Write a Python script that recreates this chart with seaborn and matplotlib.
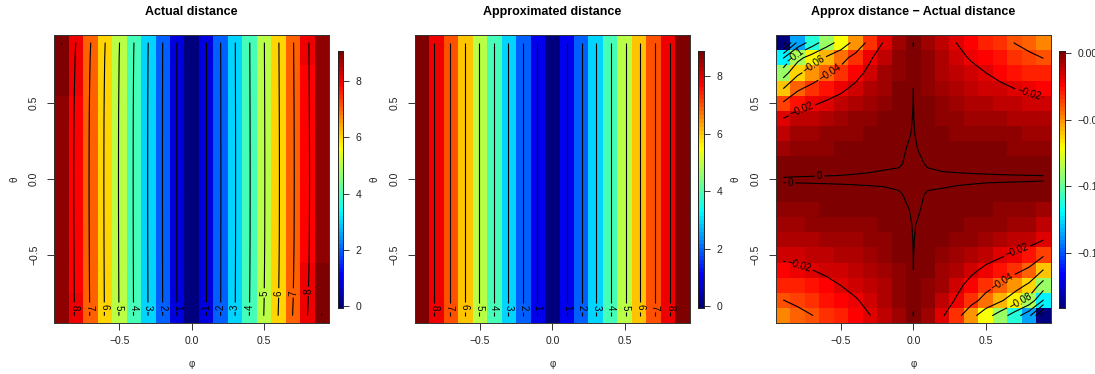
import numpy as np
import matplotlib
matplotlib.use("Agg")
import matplotlib.pyplot as plt
from matplotlib.colors import LinearSegmentedColormap, ListedColormap
import seaborn as sns

# ---------------- data ----------------
phi = [-0.9, -0.8, -0.7, -0.6, -0.5, -0.4, -0.3, -0.2, -0.1, 0.0,
       0.1, 0.2, 0.3, 0.4, 0.5, 0.6, 0.7, 0.8, 0.9]
theta = [0.9, 0.8, 0.7, 0.6, 0.5, 0.4, 0.3, 0.2, 0.1, 0.0,
         -0.1, -0.2, -0.3, -0.4, -0.5, -0.6, -0.7, -0.8, -0.9]   # rows, top to bottom

# approximated distance: depends on phi only (one value per column)
approx_by_phi = [8.82, 7.85, 6.91, 5.93, 4.94, 3.955, 2.96, 1.98, 0.97, 0.0,
                 0.97, 1.98, 2.96, 3.955, 4.94, 5.93, 6.91, 7.85, 8.82]

# Approx distance - Actual distance (rows = theta, top to bottom; columns = phi)
diff_rows = [
    [-0.1900, -0.1349, -0.1102, -0.0893, -0.0722, -0.0532, -0.0342, -0.0181, -0.0076, 0.00001, -0.0067, -0.0134, -0.0202, -0.0250, -0.0298, -0.0350, -0.0403, -0.0442, -0.0480],
    [-0.1216, -0.0863, -0.0705, -0.0572, -0.0462, -0.0340, -0.0219, -0.0116, -0.0049, -0.00003, -0.0056, -0.0113, -0.0170, -0.0210, -0.0250, -0.0294, -0.0339, -0.0371, -0.0403],
    [-0.0893, -0.0634, -0.0518, -0.0420, -0.0339, -0.0250, -0.0161, -0.0085, -0.0036, -0.00002, -0.0045, -0.0090, -0.0135, -0.0168, -0.0199, -0.0235, -0.0270, -0.0296, -0.0322],
    [-0.0608, -0.0432, -0.0353, -0.0286, -0.0231, -0.0170, -0.0109, -0.0058, -0.0024, -0.000001, -0.0034, -0.0067, -0.0101, -0.0125, -0.0149, -0.0175, -0.0202, -0.0221, -0.0240],
    [-0.0380, -0.0270, -0.0220, -0.0179, -0.0144, -0.0106, -0.0068, -0.0036, -0.0015, 0.00003, -0.0024, -0.0048, -0.0073, -0.0090, -0.0107, -0.0126, -0.0145, -0.0159, -0.0173],
    [-0.0198, -0.0142, -0.0116, -0.0094, -0.0076, -0.0056, -0.0036, -0.0019, -0.0008, 0.00006, -0.0016, -0.0032, -0.0048, -0.0060, -0.0072, -0.0084, -0.0097, -0.0106, -0.0115],
    [-0.0118, -0.0084, -0.0068, -0.0055, -0.0045, -0.0033, -0.0021, -0.0011, -0.0005, 0.0001, -0.0009, -0.0019, -0.0028, -0.0035, -0.0042, -0.0049, -0.0056, -0.0062, -0.0067],
    [-0.0061, -0.0043, -0.0035, -0.0029, -0.0023, -0.0017, -0.0011, -0.0006, -0.0002, 0.0002, -0.0005, -0.0009, -0.0014, -0.0018, -0.0021, -0.0025, -0.0028, -0.0031, -0.0034],
    [-0.0023, -0.0016, -0.0013, -0.0011, -0.0009, -0.0006, -0.0004, -0.0002, -0.0001, 0.0003, -0.0001, -0.0003, -0.0004, -0.0005, -0.0006, -0.0007, -0.0008, -0.0009, -0.0010],
    [0.0003, 0.0003, 0.0003, 0.0003, 0.0003, 0.0003, 0.0003, 0.0003, 0.0003, 0.0003, 0.0003, 0.0003, 0.0003, 0.0003, 0.0003, 0.0003, 0.0003, 0.0003, 0.0003],
    [-0.0010, -0.0009, -0.0008, -0.0007, -0.0006, -0.0005, -0.0004, -0.0003, -0.0001, 0.0003, -0.0001, -0.0002, -0.0004, -0.0006, -0.0009, -0.0011, -0.0013, -0.0016, -0.0023],
    [-0.0034, -0.0031, -0.0028, -0.0025, -0.0021, -0.0018, -0.0014, -0.0009, -0.0005, 0.0002, -0.0002, -0.0006, -0.0011, -0.0017, -0.0023, -0.0029, -0.0035, -0.0043, -0.0061],
    [-0.0067, -0.0062, -0.0056, -0.0049, -0.0042, -0.0035, -0.0028, -0.0019, -0.0009, 0.0001, -0.0005, -0.0011, -0.0021, -0.0033, -0.0045, -0.0055, -0.0068, -0.0084, -0.0118],
    [-0.0115, -0.0106, -0.0097, -0.0084, -0.0072, -0.0060, -0.0048, -0.0032, -0.0016, 0.00006, -0.0008, -0.0019, -0.0036, -0.0056, -0.0076, -0.0094, -0.0116, -0.0142, -0.0198],
    [-0.0173, -0.0159, -0.0145, -0.0126, -0.0107, -0.0090, -0.0073, -0.0048, -0.0024, 0.00003, -0.0015, -0.0036, -0.0068, -0.0106, -0.0144, -0.0179, -0.0220, -0.0270, -0.0380],
    [-0.0240, -0.0221, -0.0202, -0.0175, -0.0149, -0.0125, -0.0101, -0.0067, -0.0034, -0.000001, -0.0024, -0.0058, -0.0109, -0.0170, -0.0231, -0.0286, -0.0353, -0.0432, -0.0608],
    [-0.0322, -0.0296, -0.0270, -0.0235, -0.0199, -0.0168, -0.0135, -0.0090, -0.0045, -0.00002, -0.0036, -0.0085, -0.0161, -0.0250, -0.0339, -0.0420, -0.0518, -0.0634, -0.0893],
    [-0.0403, -0.0371, -0.0339, -0.0294, -0.0250, -0.0210, -0.0170, -0.0113, -0.0056, -0.00003, -0.0049, -0.0116, -0.0219, -0.0340, -0.0462, -0.0572, -0.0705, -0.0863, -0.1216],
    [-0.0480, -0.0442, -0.0403, -0.0350, -0.0298, -0.0250, -0.0202, -0.0134, -0.0067, 0.00001, -0.0076, -0.0181, -0.0342, -0.0532, -0.0722, -0.0893, -0.1102, -0.1349, -0.1900],
]

titles = ["Actual distance", "Approximated distance", "Approx distance \u2212 Actual distance"]
axis_ticks = [-0.5, 0.0, 0.5]
axis_ticklabels = ["\u22120.5", "0.0", "0.5"]
cbar_ticks_dist = [0, 2, 4, 6, 8]
cbar_ticks_diff = [0.0, -0.05, -0.10, -0.15]
cbar_labels_diff = ["0.00", "\u22120.05", "\u22120.10", "\u22120.15"]
levels_dist = [1, 2, 3, 4, 5, 6, 7, 8, 9]
levels_diff = [-0.18, -0.16, -0.14, -0.12, -0.10, -0.08, -0.06, -0.04, -0.02, 0.0]

# label anchor points (phi, theta)
lab_actual = [(-0.813, -0.844), (-0.709, -0.844), (-0.605, -0.844), (-0.506, -0.844),
              (-0.404, -0.844), (-0.305, -0.844), (-0.203, -0.844), (-0.104, -0.844),
              (0.102, -0.844), (0.201, -0.844), (0.303, -0.844), (0.405, -0.844),
              (0.50, -0.75), (0.60, -0.75), (0.70, -0.75), (0.80, -0.74)]
lab_approx = [(-0.813, -0.844), (-0.709, -0.844), (-0.605, -0.844), (-0.506, -0.844),
              (-0.404, -0.844), (-0.305, -0.844), (-0.203, -0.844), (-0.104, -0.844),
              (0.102, -0.844), (0.201, -0.844), (0.303, -0.844), (0.405, -0.844),
              (0.506, -0.844), (0.608, -0.844), (0.709, -0.844), (0.816, -0.844)]
lab_diff = [(-0.82, 0.815), (-0.69, 0.76), (-0.58, 0.71), (-0.77, 0.45), (0.80, 0.57),
            (-0.65, 0.022), (-0.85, -0.022), (-0.795, -0.583), (0.71, -0.457),
            (0.618, -0.678), (0.74, -0.81)]

# ---------------- derived tables ----------------
diff = np.array(diff_rows)
approx = np.tile(np.array(approx_by_phi), (len(theta), 1))
actual = approx - diff

# ---------------- style ----------------
sns.set_style("white")
plt.rcParams['font.family'] = ['Liberation Sans', 'DejaVu Sans']
plt.rcParams['axes.unicode_minus'] = True

ramp = ["#00007F", "#0000FF", "#007FFF", "#00FFFF", "#7FFF7F",
        "#FFFF00", "#FF7F00", "#FF0000", "#7F0000"]
cmap = ListedColormap(LinearSegmentedColormap.from_list("rjet", ramp)(np.linspace(0, 1, 64)))

W, H = 1095, 374
fig = plt.figure(figsize=(W / 100, H / 100), dpi=100)

AX_TOP, AX_BOT = 35.0, 323.3
CB_TOP, CB_BOT = 50.7, 308.3


def to_idx(p, t):
    return ((p + 0.95) / 0.1, (0.95 - t) / 0.1)


def fmt(v):
    s = f"{round(float(v), 6):g}"
    if s == "-0":
        s = "0"
    return s.replace("-", "\u2212")


panels = [
    dict(Z=actual, left=54.3, cb=337.7, levels=levels_dist, labs=lab_actual,
         cticks=cbar_ticks_dist, clabels=[str(t) for t in cbar_ticks_dist]),
    dict(Z=approx, left=415.0, cb=698.3, levels=levels_dist, labs=lab_approx,
         cticks=cbar_ticks_dist, clabels=[str(t) for t in cbar_ticks_dist]),
    dict(Z=diff, left=776.0, cb=1059.3, levels=levels_diff, labs=lab_diff,
         cticks=cbar_ticks_diff, clabels=cbar_labels_diff),
]

n = len(phi)
xi = np.arange(n) + 0.5
yi = np.arange(len(theta)) + 0.5
width_px = 274.7

for k, P in enumerate(panels):
    Z = P["Z"]
    zmin, zmax = float(Z.min()), float(Z.max())
    ax = fig.add_axes([P["left"] / W, 1 - AX_BOT / H, width_px / W, (AX_BOT - AX_TOP) / H])
    sns.heatmap(Z, ax=ax, cmap=cmap, vmin=zmin, vmax=zmax, cbar=False,
                xticklabels=False, yticklabels=False)
    ax.set_xlim(0, n)
    ax.set_ylim(len(theta), 0)
    for s in ax.spines.values():
        s.set_visible(True)
        s.set_color("#333333")
        s.set_linewidth(0.7)

    cs = ax.contour(xi, yi, Z, levels=P["levels"], colors="black", linewidths=0.8,
                    linestyles="solid")
    manual = [to_idx(p, t) for p, t in P["labs"]]
    ax.clabel(cs, inline=True, fmt=fmt, fontsize=7, manual=manual, inline_spacing=2)

    ax.set_xticks([to_idx(v, 0)[0] for v in axis_ticks])
    ax.set_xticklabels(axis_ticklabels)
    ax.set_yticks([to_idx(0, v)[1] for v in axis_ticks])
    ax.set_yticklabels(axis_ticklabels, rotation=90, va="center")
    ax.tick_params(axis="both", which="major", bottom=True, left=True, direction="out",
                   length=5, width=0.7, color="#333333", labelsize=7.5, labelcolor="#222222")
    ax.tick_params(axis="x", pad=4)
    ax.tick_params(axis="y", pad=6)

    ax.set_xlabel("\u03c6", fontsize=7, color="#222222")
    ax.xaxis.set_label_coords(0.5, -0.125)
    ax.set_ylabel("\u03b8", fontsize=7, color="#222222")
    ax.yaxis.set_label_coords(-0.128, 0.5)

    ax.text(0.5, 1 + (AX_TOP - 12) / (AX_BOT - AX_TOP), titles[k], transform=ax.transAxes,
            ha="center", va="center", fontsize=9, fontweight="bold", color="black")

    # colour legend strip
    cax = fig.add_axes([P["cb"] / W, 1 - CB_BOT / H, 5.7 / W, (CB_BOT - CB_TOP) / H])
    mids = np.linspace(zmin, zmax, 64)
    h = (zmax - zmin) / 63 / 2
    edges = np.linspace(zmin - h, zmax + h, 65)
    cax.pcolormesh([0, 1], edges, mids.reshape(-1, 1), cmap=cmap, vmin=zmin, vmax=zmax)
    cax.set_xlim(0, 1)
    cax.set_ylim(edges[0], edges[-1])
    cax.set_xticks([])
    cax.yaxis.tick_right()
    cax.set_yticks(P["cticks"])
    cax.set_yticklabels(P["clabels"])
    cax.tick_params(axis="y", right=True, left=False, direction="out", length=4, width=0.7,
                    color="#333333", labelsize=7.5, labelcolor="#222222", pad=5)
    for s in cax.spines.values():
        s.set_visible(True)
        s.set_color("#222222")
        s.set_linewidth(0.7)

fig.savefig("out.png", dpi=100)
